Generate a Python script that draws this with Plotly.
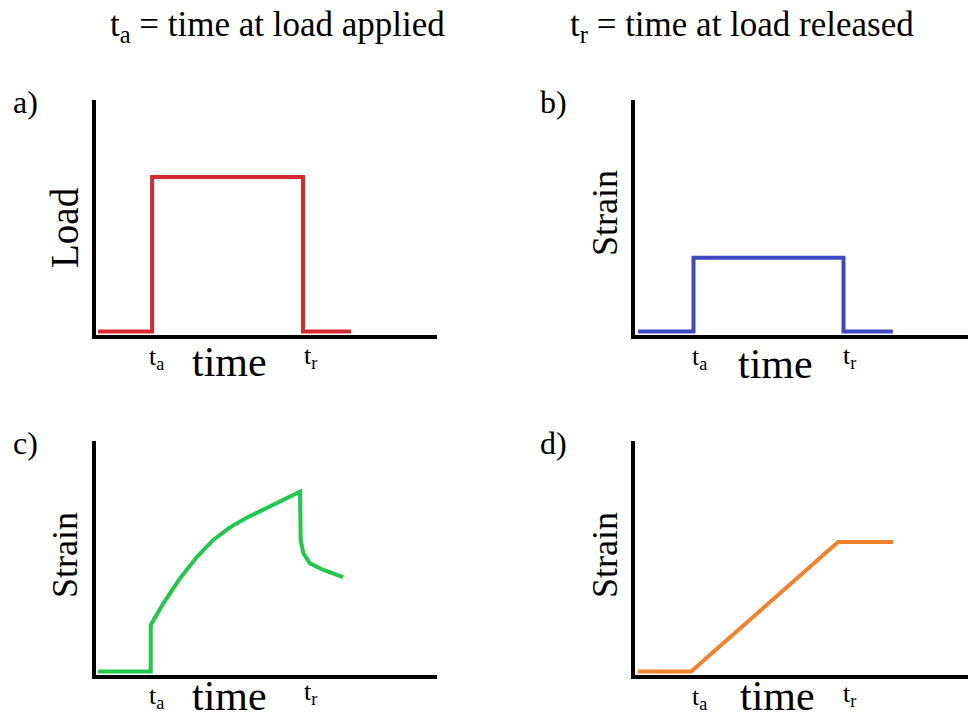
import plotly.graph_objects as go

W, H = 968, 720

# ---------------- data ----------------
# a) Load vs time
t_a = [0.06, 1.65, 1.65, 6.09, 6.09, 7.50]
load_a = [0.0, 0.0, 6.57, 6.57, 0.0, 0.0]

# b) Strain vs time (elastic)
t_b = [0.09, 1.72, 1.72, 6.13, 6.13, 7.58]
strain_b = [0.0, 0.0, 3.14, 3.14, 0.0, 0.0]

# c) Strain vs time (viscoelastic)
t_c = [0.06, 1.61, 1.61, 1.98, 2.47, 2.96, 3.45, 3.94, 4.43, 4.92, 5.41, 6.00,
       6.02, 6.10, 6.29, 6.69, 7.27]
strain_c = [0.0, 0.0, 1.99, 2.91, 3.98, 4.88, 5.62, 6.16, 6.57, 6.93, 7.26, 7.68,
            5.62, 5.05, 4.62, 4.34, 4.03]

# d) Strain vs time (viscous)
t_d = [0.09, 1.65, 5.97, 7.59]
strain_d = [0.0, 0.0, 5.53, 5.53]

panel_letters = ["a)", "b)", "c)", "d)"]
y_titles = ["Load", "Strain", "Strain", "Strain"]
header_texts = ["t<sub>a</sub> = time at load applied",
                "t<sub>r</sub> = time at load released"]
tick_labels = ["t<sub>a</sub>", "time", "t<sub>r</sub>"]

# ---------------- layout helpers ----------------
FONT = "Liberation Serif"


def dx(x0, x1):
    return [x0 / W, x1 / W]


def dy(top, bottom):
    return [1 - bottom / H, 1 - top / H]


def px(x, y):
    return x / W, 1 - y / H


panels = [
    (t_a, load_a, "#d8282f", (96, 437), (100, 335), [0, 10.03], [-0.15, 9.85]),
    (t_b, strain_b, "#3f48c4", (635, 968), (100, 335), [0, 9.79], [-0.15, 9.85]),
    (t_c, strain_c, "#22c84c", (96, 437), (441, 675), [0, 10.03], [-0.15, 9.85]),
    (t_d, strain_d, "#f2812c", (635, 968), (441, 675), [0, 9.79], [-0.15, 9.85]),
]

fig = go.Figure()
for i, (xs, ys, col, xd, yd, xr, yr) in enumerate(panels, start=1):
    suffix = "" if i == 1 else str(i)
    fig.add_trace(go.Scatter(
        x=xs, y=ys, mode="lines",
        line=dict(color=col, width=4),
        xaxis="x" + suffix, yaxis="y" + suffix,
        showlegend=False, hoverinfo="skip",
    ))
    common = dict(showgrid=False, zeroline=False, showticklabels=False,
                  ticks="", showline=True, linecolor="black", linewidth=4,
                  fixedrange=True)
    fig.layout["xaxis" + suffix] = dict(domain=dx(*xd), range=xr,
                                        anchor="y" + suffix, **common)
    fig.layout["yaxis" + suffix] = dict(domain=dy(*yd), range=yr,
                                        anchor="x" + suffix, **common)

annotations = []


def add_text(text, x, y, size, angle=0):
    ax, ay = px(x, y)
    annotations.append(dict(text=text, x=ax, y=ay, xref="paper", yref="paper",
                            xanchor="center", yanchor="middle", showarrow=False,
                            textangle=angle,
                            font=dict(family=FONT, size=size, color="black")))


# headers
add_text(header_texts[0], 277, 27, 35)
add_text(header_texts[1], 742, 27, 35)

# panel letters
for letter, (x, y) in zip(panel_letters, [(25, 102), (553, 102), (25, 443), (553, 443)]):
    add_text(letter, x, y, 32)

# y titles
for title, size, (x, y) in zip(y_titles, [39, 36, 36, 36],
                               [(64, 228), (605, 213), (65, 555), (605, 555)]):
    add_text(title, x, y, size, angle=-90)

# x tick labels (ta, time, tr)
label_pos = [
    [(156, 358), (229, 362), (310, 357)],
    [(699, 358), (775, 364), (849, 357)],
    [(156, 697), (229, 696), (310, 693)],
    [(699, 698), (777, 696), (849, 695)],
]
for pos in label_pos:
    for lab, (x, y) in zip(tick_labels, pos):
        add_text(lab, x, y, 42 if lab == "time" else 26)

fig.update_layout(
    width=W, height=H,
    margin=dict(l=0, r=0, t=0, b=0),
    paper_bgcolor="white", plot_bgcolor="white",
    font=dict(family=FONT, color="black"),
    annotations=annotations,
    showlegend=False,
)

fig.write_html("out.html", config={"displayModeBar": False})
